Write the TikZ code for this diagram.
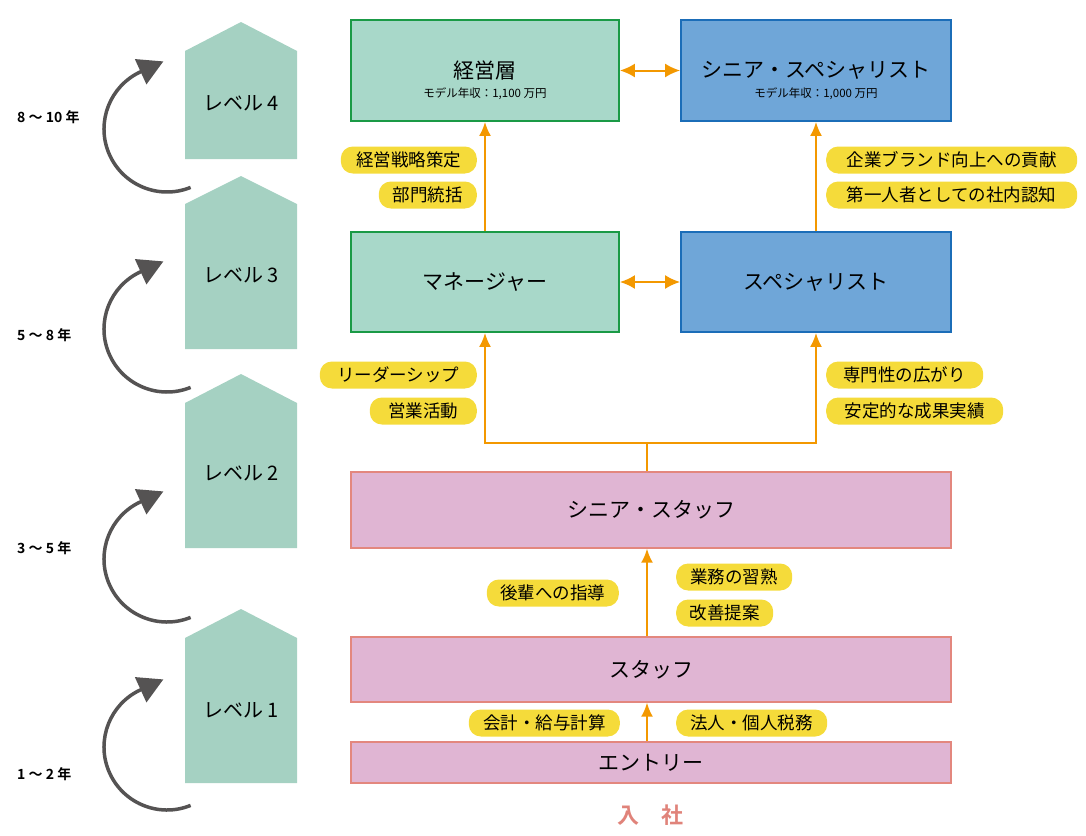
\documentclass[tikz,border=0pt]{standalone}
\usepackage{fontspec}
\setmainfont{Noto Sans CJK JP}[BoldFont={* Bold}]
\usetikzlibrary{arrows.meta,positioning,calc}
\definecolor{housefill}{HTML}{A5D1C2}
\definecolor{mgrfill}{HTML}{A8D8C9}
\definecolor{mgrline}{HTML}{1A9A46}
\definecolor{spcfill}{HTML}{6FA6D8}
\definecolor{spcline}{HTML}{1B6DB8}
\definecolor{stffill}{HTML}{E0B5D3}
\definecolor{stfline}{HTML}{E3877E}
\definecolor{tagyellow}{HTML}{F5DB3A}
\definecolor{careerorange}{HTML}{F39800}
\definecolor{climbgray}{HTML}{555353}
\definecolor{joinred}{HTML}{E0837A}
\begin{document}
\begin{tikzpicture}[
    x=1pt, y=-1pt,
    every node/.style = {inner sep=0pt, align=center},
    box/.style = {draw, line width=1.8pt, font=\fontsize{21}{23}\selectfont},
    mgrbox/.style = {box, draw=mgrline, fill=mgrfill, minimum width=268pt, minimum height=100pt},
    spcbox/.style = {box, draw=spcline, fill=spcfill, minimum width=270pt, minimum height=100pt},
    stfbox/.style = {box, line width=1.4pt, draw=stfline, fill=stffill, minimum width=600pt},
    paytext/.style = {font=\fontsize{11.5}{13}\selectfont},
    tagpill/.style = {fill=tagyellow, rounded corners=12pt, minimum height=27pt, font=\fontsize{17.5}{19}\selectfont},
    uparrow/.style = {draw=careerorange, line width=2pt, -{Latex[length=14pt,width=12pt]}},
    bothway/.style = {draw=careerorange, line width=2pt, {Latex[length=15pt,width=14pt]}-{Latex[length=15pt,width=14pt]}},
    yrlabel/.style = {anchor=west, font=\bfseries\fontsize{14}{16}\selectfont},
    lvlabel/.style = {font=\fontsize{20}{22}\selectfont},
    climb/.style = {draw=climbgray, line width=3.5pt, -{Triangle[length=25pt,width=27pt]}}
  ]
\useasboundingbox (0,0) rectangle (1086,835);

\fill[housefill] (185,51) -- (241,22) -- (297,51) -- (297,159) -- (185,159) -- cycle;
\fill[housefill] (185,204) -- (241,176) -- (297,204) -- (297,349) -- (185,349) -- cycle;
\fill[housefill] (185,403) -- (241,374) -- (297,403) -- (297,548) -- (185,548) -- cycle;
\fill[housefill] (185,638) -- (241,609) -- (297,638) -- (297,783) -- (185,783) -- cycle;
\node[lvlabel] (lv4) at (241,103) {レベル 4};
\node[lvlabel] (lv3) at (241,275) {レベル 3};
\node[lvlabel] (lv2) at (241,473) {レベル 2};
\node[lvlabel] (lv1) at (241,710) {レベル 1};

\draw[climb] (190.6,187.4) arc[start angle=68, end angle=245, radius=63] -- ++(23,-10.5);
\draw[climb] (190.6,387.4) arc[start angle=68, end angle=245, radius=63] -- ++(23,-10.5);
\draw[climb] (190.6,617.4) arc[start angle=68, end angle=245, radius=63] -- ++(23,-10.5);
\draw[climb] (190.6,805.4) arc[start angle=68, end angle=245, radius=63] -- ++(23,-10.5);
\node[yrlabel] (yr4) at (17,117) {8 ～ 10 年};
\node[yrlabel] (yr3) at (17,335) {5 ～ 8 年};
\node[yrlabel] (yr2) at (17,548) {3 ～ 5 年};
\node[yrlabel] (yr1) at (17,774) {1 ～ 2 年};

\node[mgrbox, minimum height=101pt] (exec) at (485,70.5) {経営層};
\node[paytext] (execpay) at ($(exec.center)+(0,23)$) {モデル年収：1,100 万円};
\node[spcbox, minimum height=101pt] (sspc) at (816,70.5) {シニア・スペシャリスト};
\node[paytext] (sspcpay) at ($(sspc.center)+(0,23)$) {モデル年収：1,000 万円};
\node[mgrbox] (mgr) at (485,282) {マネージャー};
\node[spcbox] (spc) at (816,282) {スペシャリスト};
\node[stfbox, minimum height=76pt] (sstaff) at (651,510) {シニア・スタッフ};
\node[stfbox, minimum height=65pt] (staff) at (651,669.5) {スタッフ};
\node[stfbox, minimum height=41pt] (entry) at (651,762.5) {エントリー};
\node[font=\bfseries\fontsize{22}{24}\selectfont, text=joinred] (join) at (650,815) {入　社};

\draw[bothway] (exec.east) -- (sspc.west);
\draw[bothway] (mgr.east) -- (spc.west);
\draw[uparrow] (mgr.north) -- (exec.south);
\draw[uparrow] (spc.north) -- (sspc.south);
\coordinate (fork) at (647,443);
\draw[draw=careerorange, line width=2pt] (sstaff.north -| fork) -- (fork);
\draw[uparrow] (fork) -| (mgr.south);
\draw[uparrow] (fork) -| (spc.south);
\draw[uparrow] (staff.north -| fork) -- (sstaff.south -| fork);
\draw[uparrow] (entry.north -| fork) -- (staff.south -| fork);

\node[tagpill, minimum width=136pt, anchor=east] (senryaku) at (477,160) {経営戦略策定};
\node[tagpill, minimum width=98pt, anchor=east] (toukatsu) at (477,195) {部門統括};
\node[tagpill, minimum width=251pt, anchor=west] (brand) at (826,160) {企業ブランド向上への貢献};
\node[tagpill, minimum width=251pt, anchor=west] (ninchi) at (826,195) {第一人者としての社内認知};
\node[tagpill, minimum width=157pt, anchor=east] (leader) at (477,375) {リーダーシップ};
\node[tagpill, minimum width=107pt, anchor=east] (eigyou) at (477,411) {営業活動};
\node[tagpill, minimum width=157pt, anchor=west] (senmon) at (826,375) {専門性の広がり};
\node[tagpill, minimum width=177pt, anchor=west] (seika) at (826,411) {安定的な成果実績};
\node[tagpill, minimum width=132pt, anchor=east] (shidou) at (619,593) {後輩への指導};
\node[tagpill, minimum width=116pt, anchor=west] (shuujuku) at (676,577) {業務の習熟};
\node[tagpill, minimum width=97pt, anchor=west] (kaizen) at (676,613) {改善提案};
\node[tagpill, minimum width=151pt, anchor=east] (kyuuyo) at (620,723) {会計・給与計算};
\node[tagpill, minimum width=151pt, anchor=west] (zeimu) at (676,723) {法人・個人税務};
\end{tikzpicture}
\end{document}
